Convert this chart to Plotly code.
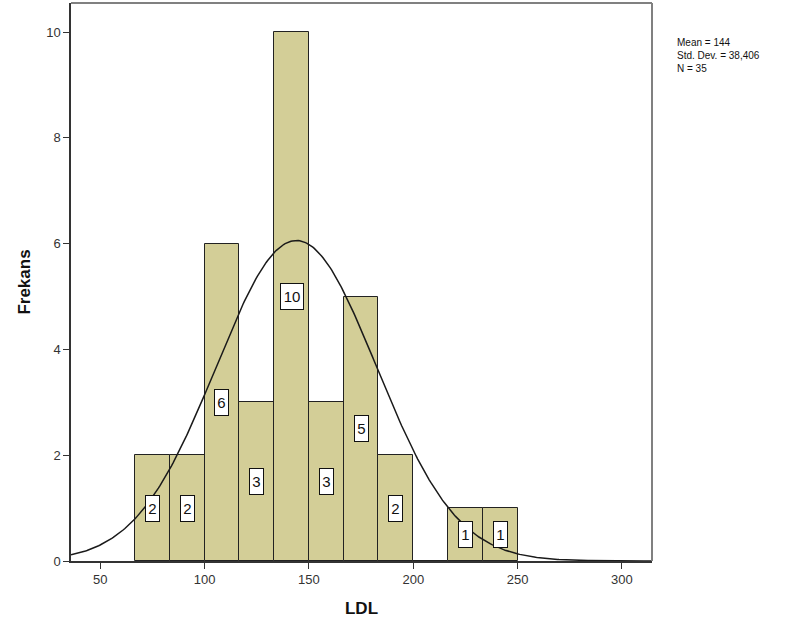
import numpy as np
import plotly.graph_objects as go

# Data
bin_start = 66.6667
bin_width = 16.6667
counts = [2, 2, 6, 3, 10, 3, 5, 2, 0, 1, 1]
mean_val = 144
std_val = 38.406
n_val = 35
x_ticks = [50, 100, 150, 200, 250, 300]
y_ticks = [0, 2, 4, 6, 8, 10]
stats_lines = ["Mean = 144", "Std. Dev. = 38,406", "N = 35"]

centers = [bin_start + bin_width * (i + 0.5) for i in range(len(counts))]

FONT = "Arial, Liberation Sans, sans-serif"
BAR_COLOR = "#D3CE97"

fig = go.Figure()
fig.add_trace(go.Bar(
    x=centers, y=counts, width=bin_width,
    marker=dict(color=BAR_COLOR, line=dict(color="#222222", width=1)),
    hoverinfo="skip", showlegend=False,
))

# Fitted normal curve
xs = np.linspace(36, 314.5, 400)
ys = n_val * bin_width / (std_val * np.sqrt(2 * np.pi)) * np.exp(-0.5 * ((xs - mean_val) / std_val) ** 2)
fig.add_trace(go.Scatter(x=xs, y=ys, mode="lines",
                         line=dict(color="#1a1a1a", width=1.5),
                         hoverinfo="skip", showlegend=False))

# Count labels
for c, v in zip(centers, counts):
    if v <= 0:
        continue
    txt = str(v)
    fig.add_annotation(
        x=c, y=v / 2, text=txt, showarrow=False,
        font=dict(family=FONT, size=15, color="#111111"),
        bgcolor="white", bordercolor="#111111", borderwidth=1, borderpad=1,
        width=11 if len(txt) == 1 else 20, height=23,
        xanchor="center", yanchor="middle",
    )

# Stats text
fig.add_annotation(
    xref="paper", yref="paper", x=1.0, y=1.0, xshift=23, yshift=-32,
    text="<br>".join(stats_lines), showarrow=False, align="left",
    xanchor="left", yanchor="top",
    font=dict(family=FONT, size=10, color="#111111"),
)

fig.update_layout(
    width=785, height=628,
    margin=dict(l=71, r=133, t=3, b=67),
    paper_bgcolor="white", plot_bgcolor="white",
    bargap=0,
    font=dict(family=FONT, size=13, color="#333333"),
    xaxis=dict(
        range=[36, 314.4], tickvals=x_ticks, ticks="outside", ticklen=6,
        tickcolor="#333333", showgrid=False, zeroline=False,
        showline=True, linecolor="#333333", linewidth=1.5, mirror=False,
        tickfont=dict(size=13, color="#333333"),
        title=dict(text="<b>LDL</b>", font=dict(size=17, color="#111111"), standoff=16),
    ),
    yaxis=dict(
        range=[0, 10.55], tickvals=y_ticks, ticks="outside", ticklen=6,
        tickcolor="#333333", showgrid=False, zeroline=False,
        showline=True, linecolor="#333333", linewidth=1.5,
        tickfont=dict(size=13, color="#333333"),
        title=dict(text="<b>Frekans</b>", font=dict(size=17, color="#111111"), standoff=11),
    ),
    shapes=[
        dict(type="line", xref="paper", yref="paper", x0=0, x1=1, y0=1, y1=1,
             line=dict(color="#808080", width=2)),
        dict(type="line", xref="paper", yref="paper", x0=1, x1=1, y0=0, y1=1,
             line=dict(color="#808080", width=2)),
    ],
)

fig.write_html("out.html", config={"displayModeBar": False},
               post_script="document.body.style.margin='0';document.body.style.overflow='hidden';")
